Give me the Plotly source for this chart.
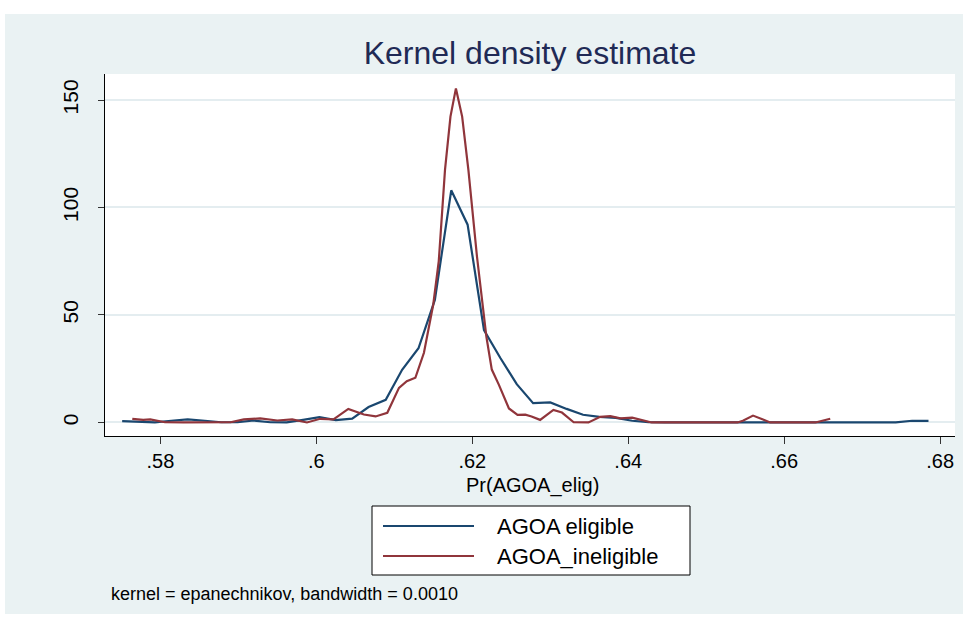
import plotly.graph_objects as go

# ---- data ----
elig_x = [0.5751, 0.5772, 0.5793, 0.5814, 0.5835, 0.5857, 0.5878, 0.5899, 0.5920, 0.5941,
          0.5962, 0.5983, 0.6004, 0.6025, 0.6046, 0.6067, 0.6089, 0.6110, 0.6131, 0.6152,
          0.6173, 0.6194, 0.6215, 0.6236, 0.6257, 0.6278, 0.6300, 0.6321, 0.6342, 0.6363,
          0.6384, 0.6405, 0.6426, 0.6447, 0.6468, 0.6489, 0.6511, 0.6532, 0.6553, 0.6574,
          0.6595, 0.6616, 0.6637, 0.6658, 0.6679, 0.6700, 0.6722, 0.6743, 0.6764, 0.6785]
elig_y = [0.6, 0.3, 0.0, 0.8, 1.4, 0.8, 0.1, 0.2, 0.9, 0.1,
          0.0, 1.2, 2.5, 1.1, 1.8, 7.2, 10.5, 24.5, 34.5, 57.0,
          108.0, 92.0, 43.0, 30.0, 17.8, 9.0, 9.3, 6.3, 3.6, 2.6,
          2.1, 0.8, 0.2, 0.0, 0.0, 0.0, 0.0, 0.0, 0.0, 0.0,
          0.0, 0.0, 0.0, 0.0, 0.0, 0.0, 0.0, 0.05, 0.8, 0.7]

inelig_x = [0.5764, 0.5778, 0.5787, 0.5806, 0.5830, 0.5860, 0.5890, 0.5907, 0.5928, 0.5950,
            0.5969, 0.5988, 0.6005, 0.6022, 0.6041, 0.6061, 0.6076, 0.6091, 0.6106, 0.6116,
            0.6127, 0.6138, 0.6150, 0.6157, 0.6165, 0.6172, 0.6179, 0.6187, 0.6195, 0.6206,
            0.6218, 0.6225, 0.6234, 0.6247, 0.6258, 0.6268, 0.6276, 0.6287, 0.6304, 0.6315,
            0.6330, 0.6349, 0.6364, 0.6377, 0.6390, 0.6405, 0.6415, 0.6430, 0.6500, 0.6540,
            0.6547, 0.6560, 0.6572, 0.6582, 0.6640, 0.6659]
inelig_y = [1.7, 1.2, 1.4, 0.1, 0.0, 0.0, 0.1, 1.4, 1.9, 0.9,
            1.4, 0.0, 1.7, 1.4, 6.3, 3.7, 2.8, 4.5, 16.1, 19.2,
            20.8, 32.4, 55.0, 75.0, 117.5, 142.3, 155.4, 142.3, 117.5, 77.2,
            40.0, 24.6, 17.6, 6.5, 3.5, 3.6, 2.8, 1.2, 5.8, 4.6,
            0.1, 0.0, 2.6, 2.9, 1.9, 2.2, 1.4, 0.0, 0.0, 0.0,
            0.8, 3.2, 1.5, 0.0, 0.0, 1.7]

x_ticks = [0.58, 0.60, 0.62, 0.64, 0.66, 0.68]
x_tick_labels = [".58", ".6", ".62", ".64", ".66", ".68"]
y_ticks = [0, 50, 100, 150]
y_tick_labels = ["0", "50", "100", "150"]

series_names = ["AGOA eligible", "AGOA_ineligible"]
series_colors = ["#1a476f", "#90353b"]

title_text = "Kernel density estimate"
x_title = "Pr(AGOA_elig)"
note_text = "kernel = epanechnikov, bandwidth = 0.0010"

# ---- layout geometry (pixels) ----
W, H = 967, 619
L, R, T, B = 105, 955, 74, 436
FONT = "Liberation Sans, Arial, sans-serif"
BG = "#eaf2f3"


def px(x):
    return (x - L) / (R - L)


def py(y):
    return (B - y) / (B - T)


fig = go.Figure()
fig.add_trace(go.Scatter(x=elig_x, y=elig_y, mode="lines", name=series_names[0],
                         line=dict(color=series_colors[0], width=2.2), showlegend=False))
fig.add_trace(go.Scatter(x=inelig_x, y=inelig_y, mode="lines", name=series_names[1],
                         line=dict(color=series_colors[1], width=2.2), showlegend=False))

shapes = [
    # graph region background
    dict(type="rect", xref="paper", yref="paper", x0=px(5), x1=px(963), y0=py(614), y1=py(14),
         fillcolor=BG, line=dict(width=0), layer="below"),
    # plot region
    dict(type="rect", xref="paper", yref="paper", x0=0, x1=1, y0=0, y1=1,
         fillcolor="white", line=dict(width=0), layer="below"),
    # legend box
    dict(type="rect", xref="paper", yref="paper", x0=px(372), x1=px(690), y0=py(575), y1=py(506),
         fillcolor="white", line=dict(color="black", width=1)),
]
annotations = [
    dict(text=x_title, xref="paper", yref="paper", x=px(532), y=py(485), showarrow=False,
         xanchor="center", yanchor="middle", font=dict(family=FONT, size=20, color="black")),
    dict(text=note_text, xref="paper", yref="paper", x=px(109), y=py(594), showarrow=False,
         xanchor="left", yanchor="middle", font=dict(family=FONT, size=18, color="black")),
]
rows = [526, 556]
for name, color, ry in zip(series_names, series_colors, rows):
    shapes.append(dict(type="line", xref="paper", yref="paper", x0=px(383), x1=px(474),
                       y0=py(ry), y1=py(ry), line=dict(color=color, width=2)))
    annotations.append(dict(text=name, xref="paper", yref="paper", x=px(495), y=py(ry),
                            showarrow=False, xanchor="left", yanchor="middle",
                            font=dict(family=FONT, size=22, color="black")))

fig.update_layout(
    width=W, height=H,
    margin=dict(l=L, r=W - R, t=T, b=H - B, pad=0),
    paper_bgcolor="white", plot_bgcolor="white",
    title=dict(text=title_text, x=px(530), xref="paper", xanchor="center",
               y=1 - 53 / H, yref="container", yanchor="middle",
               font=dict(family=FONT, size=32, color="#1f2a55")),
    shapes=shapes, annotations=annotations,
    showlegend=False,
    font=dict(family=FONT, color="black"),
)
fig.update_xaxes(range=[0.5729, 0.6819], tickvals=x_ticks, ticktext=x_tick_labels,
                 showgrid=False, zeroline=False, showline=True, linecolor="black", linewidth=1,
                 ticks="outside", ticklen=7, tickcolor="#333333", tickwidth=1,
                 tickfont=dict(family=FONT, size=20, color="black"))
fig.update_yaxes(range=[-6.3, 162.1], tickvals=y_ticks, ticktext=y_tick_labels,
                 showgrid=True, gridcolor="#e4edf0", gridwidth=1.5, zeroline=False,
                 showline=True, linecolor="black", linewidth=1,
                 ticks="outside", ticklen=6, tickcolor="#333333", tickwidth=1,
                 tickangle=-90, ticklabelstandoff=12,
                 tickfont=dict(family=FONT, size=21, color="black"))

fig.write_html("out.html", config={"displayModeBar": False},
               post_script="document.body.style.margin='0px';")
